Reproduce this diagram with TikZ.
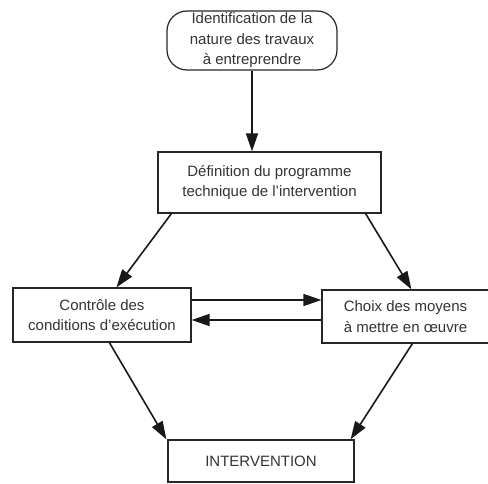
\documentclass[tikz,border=0pt]{standalone}
\usepackage{fontspec}
\setmainfont{Liberation Sans}
\usetikzlibrary{arrows.meta,calc}
\begin{document}
\begin{tikzpicture}[x=1pt,y=-1pt,
  box/.style={draw=black!85,line width=1.2pt,align=center,inner sep=0pt,
    font=\fontsize{15}{20.5}\selectfont,text=black!80},
  arr/.style={line width=1.6pt,draw=black!90,-{Triangle[length=18pt,width=12pt]}}]
\useasboundingbox (0,0) rectangle (488,484);
\node[box,rounded corners=20pt,minimum width=170pt,minimum height=59pt] (ident) at (252,40.5)
  {Identification de la\\nature des travaux\\à entreprendre};
\node[box,minimum width=223pt,minimum height=61pt] (def) at (269.5,182.5)
  {Définition du programme\\technique de l'intervention};
\node[box,minimum width=178pt,minimum height=54pt] (ctrl) at (102,315)
  {Contrôle des\\conditions d'exécution};
\node[box,minimum width=167pt,minimum height=53pt] (choix) at (405.5,316.5)
  {Choix des moyens\\à mettre en œuvre};
\node[box,minimum width=186pt,minimum height=42pt] (inter) at (261,461)
  {INTERVENTION};
\coordinate (h1s) at ($(ctrl.east)+(0,-15)$);
\coordinate (h1e) at (h1s -| choix.west);
\coordinate (h2e) at ($(ctrl.east)+(0,5)$);
\coordinate (h2s) at (h2e -| choix.west);
\draw[arr] (ident.south) -- (def.north -| ident.south);
\draw[arr] ($(def.south west)+(14,0)$) -- ($(ctrl.north west)+(104,0)$);
\draw[arr] ($(def.south east)+(-16,0)$) -- ($(choix.north west)+(90,0)$);
\draw[arr] (h1s) -- (h1e);
\draw[arr] (h2s) -- (h2e);
\draw[arr] ($(ctrl.south west)+(97,0)$) -- ($(inter.north west)+(-1,0)$);
\draw[arr] ($(choix.south west)+(91,0)$) -- ($(inter.north east)+(-4,0)$);
\end{tikzpicture}
\end{document}
